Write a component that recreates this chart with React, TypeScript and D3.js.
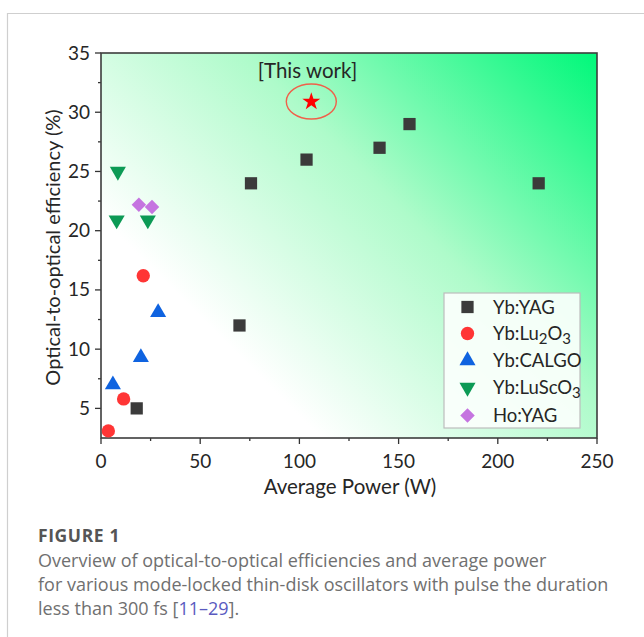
import React from "react";
import * as d3 from "d3";

const ybYagX = [18, 69.8, 75.6, 103.6, 140.4, 155.5, 220.6];
const ybYagY = [5, 12, 24, 26, 27, 29, 24];
const ybLuX = [3.7, 11.4, 21.3];
const ybLuY = [3.1, 5.8, 16.2];
const calgoX = [6, 20.1, 28.8];
const calgoY = [7.0, 9.3, 13.1];
const luscoX = [8.5, 7.9, 23.6];
const luscoY = [25, 20.9, 20.9];
const hoX = [19.1, 25.7];
const hoY = [22.2, 22.0];
const thisWorkX = [106];
const thisWorkY = [30.9];
const xTicks = [0, 50, 100, 150, 200, 250];
const yTicks = [5, 10, 15, 20, 25, 30, 35];
const xMinor = [25, 75, 125, 175, 225];
const yMinor = [7.5, 12.5, 17.5, 22.5, 27.5, 32.5];

const CHART_FONT = "Lato, 'Open Sans', sans-serif";
const CAP_FONT = "'Open Sans', sans-serif";

export default function App() {
  const W = 644, H = 637;
  const L = 101, R = 597, T = 53, B = 438;
  const x = d3.scaleLinear().domain([0, 250]).range([L, R]);
  const y = d3.scaleLinear().domain([2.5, 35]).range([B, T]);

  const sq = d3.symbol().type(d3.symbolSquare).size(150)()!;
  const circ = d3.symbol().type(d3.symbolCircle).size(140)()!;
  const tri = d3.symbol().type(d3.symbolTriangle).size(112)()!;
  const dia = d3.symbol().type(d3.symbolSquare).size(105)()!;
  const star = d3.symbol().type(d3.symbolStar).size(100)()!;

  const series = [
    { name: "Yb:YAG", xs: ybYagX, ys: ybYagY, path: sq, color: "#3b3b3b", rot: 0 },
    { name: "Yb:Lu2O3", xs: ybLuX, ys: ybLuY, path: circ, color: "#ff3535", rot: 0 },
    { name: "Yb:CALGO", xs: calgoX, ys: calgoY, path: tri, color: "#0f63e0", rot: 0 },
    { name: "Yb:LuScO3", xs: luscoX, ys: luscoY, path: tri, color: "#0c9a55", rot: 180 },
    { name: "Ho:YAG", xs: hoX, ys: hoY, path: dia, color: "#c574e0", rot: 45 },
  ];

  const d = (R - L + (B - T)) / 2;
  const legendRows = [307, 333.5, 360.5, 387.5, 415.5];

  const labelFor = (name: string) => {
    if (name === "Yb:Lu2O3")
      return (
        <>
          Yb:Lu<tspan dy={4} fontSize={15}>2</tspan>
          <tspan dy={-4}>O</tspan>
          <tspan dy={4} fontSize={15}>3</tspan>
        </>
      );
    if (name === "Yb:LuScO3")
      return (
        <>
          Yb:LuScO<tspan dy={4} fontSize={15}>3</tspan>
        </>
      );
    return name;
  };

  return (
    <svg width={W} height={H} style={{ position: "absolute", left: 0, top: 0, background: "#fff" }}>
      <defs>
        <linearGradient id="bg" gradientUnits="userSpaceOnUse" x1={L} y1={B} x2={L + d} y2={B - d}>
          <stop offset="0" stopColor="#ffffff" />
          <stop offset="0.25" stopColor="#ffffff" />
          <stop offset="0.6" stopColor="#aefbca" />
          <stop offset="1" stopColor="#00f87a" />
        </linearGradient>
      </defs>
      {/* frame */}
      <line x1={7} y1={13.5} x2={W} y2={13.5} stroke="#cfcfcf" strokeWidth={1.2} />
      <line x1={7.5} y1={13} x2={7.5} y2={H} stroke="#cfcfcf" strokeWidth={1.2} />

      {/* plot background */}
      <rect x={L} y={T} width={R - L} height={B - T} fill="url(#bg)" />

      {/* ticks */}
      <g stroke="#333" strokeWidth={1.3}>
        {yTicks.map((t) => (
          <line key={"ym" + t} x1={L - 6} x2={L} y1={y(t)} y2={y(t)} />
        ))}
        {yMinor.map((t) => (
          <line key={"yn" + t} x1={L - 3} x2={L} y1={y(t)} y2={y(t)} />
        ))}
        {xTicks.map((t) => (
          <line key={"xm" + t} x1={x(t)} x2={x(t)} y1={B} y2={B + 6} />
        ))}
        {xMinor.map((t) => (
          <line key={"xn" + t} x1={x(t)} x2={x(t)} y1={B} y2={B + 3} />
        ))}
      </g>
      <rect x={L} y={T} width={R - L} height={B - T} fill="none" stroke="#3d3d3d" strokeWidth={1.6} />

      {/* tick labels */}
      <g fontFamily={CHART_FONT} fill="#262626">
        {yTicks.map((t) => (
          <text key={"yl" + t} x={L - 11} y={y(t) + 6.5} textAnchor="end" fontSize={19}>
            {t}
          </text>
        ))}
        {xTicks.map((t) => (
          <text key={"xl" + t} x={x(t)} y={468} textAnchor="middle" fontSize={19}>
            {t}
          </text>
        ))}
        <text x={350} y={494} textAnchor="middle" fontSize={20.5}>
          Average Power (W)
        </text>
        <text transform={`translate(60,${(T + B) / 2 + 2}) rotate(-90)`} textAnchor="middle" fontSize={20}>
          Optical-to-optical efficiency (%)
        </text>
      </g>

      {/* data */}
      {series.map((s) =>
        s.xs.map((v, i) => (
          <path
            key={s.name + i}
            d={s.path}
            fill={s.color}
            transform={`translate(${x(v)},${y(s.ys[i])}) rotate(${s.rot})`}
          />
        ))
      )}

      {/* this work */}
      {thisWorkX.map((v, i) => (
        <g key={"tw" + i}>
          <ellipse cx={x(v)} cy={y(thisWorkY[i])} rx={25} ry={17.5} fill="none" stroke="#f0604a" strokeWidth={1.4} />
          <path d={star} fill="#ff0000" transform={`translate(${x(v)},${y(thisWorkY[i])})`} />
          <text x={307.5} y={78} textAnchor="middle" fontFamily={CHART_FONT} fontSize={20.5} fill="#262626">
            [This work]
          </text>
        </g>
      ))}

      {/* legend */}
      <rect x={444} y={293} width={136} height={135} fill="#fbfffc" fillOpacity={0.92} stroke="#bdbdbd" strokeWidth={1.2} />
      {series.map((s, i) => (
        <g key={"lg" + s.name}>
          <path d={s.path} fill={s.color} transform={`translate(467.5,${legendRows[i]}) rotate(${s.rot})`} />
          <text x={493} y={legendRows[i] + 6.5} fontFamily={CHART_FONT} fontSize={18.5} fill="#262626">
            {labelFor(s.name)}
          </text>
        </g>
      ))}

      {/* caption */}
      <text x={38} y={542} fontFamily={CAP_FONT} fontSize={17.5} fontWeight={700} letterSpacing={0.6} fill="#555">
        FIGURE 1
      </text>
      <g fontFamily={CAP_FONT} fontSize={18} fill="#707070">
        <text x={38} y={567}>Overview of optical-to-optical efficiencies and average power</text>
        <text x={38} y={591}>for various mode-locked thin-disk oscillators with pulse the duration</text>
        <text x={38} y={615}>
          less than 300 fs [<tspan fill="#5a5ac0">11–29</tspan>].
        </text>
      </g>
    </svg>
  );
}
